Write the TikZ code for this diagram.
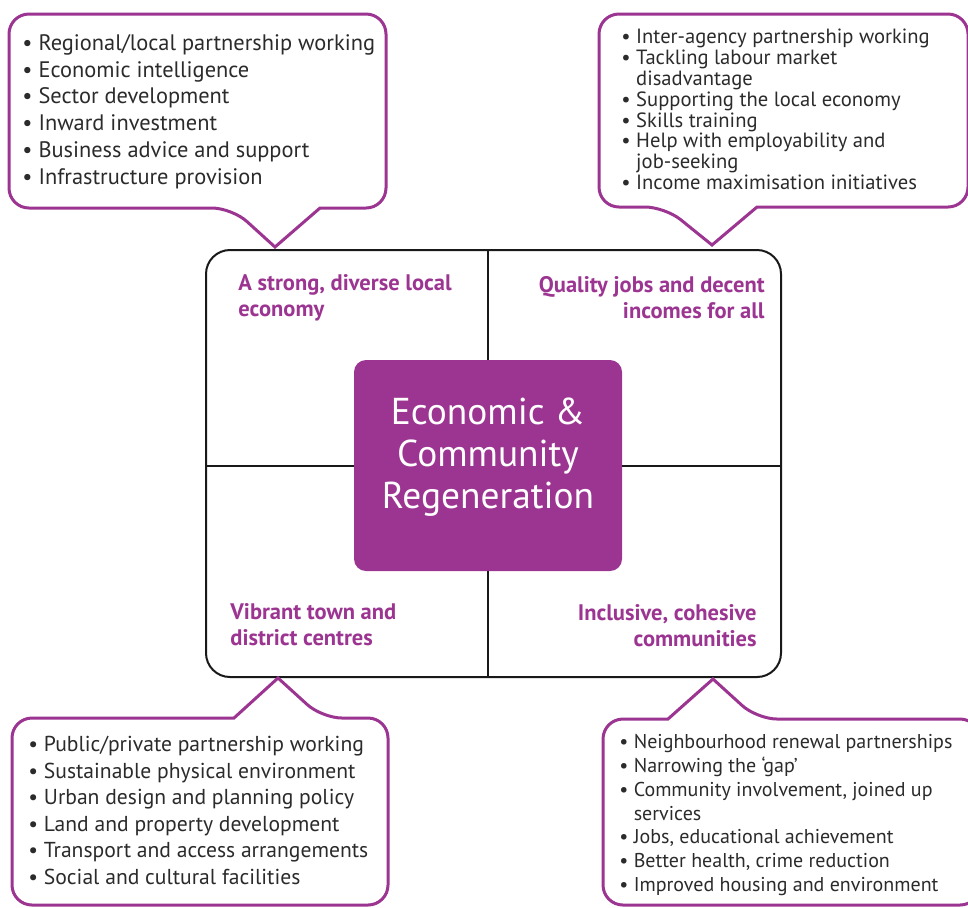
\documentclass[tikz,border=0pt]{standalone}
\usepackage{fontspec}
\setmainfont{PT Sans}
\usetikzlibrary{positioning}
\definecolor{regenpurple}{HTML}{9C3591}
\definecolor{itemgrey}{HTML}{2B2B2B}
\tikzstyle{callout} = [draw=regenpurple, line width=1.5pt, fill=white]
\tikzstyle{itemlist} = [anchor=north west, align=left, inner sep=0pt, text=itemgrey]
\tikzstyle{quadlabel} = [text=regenpurple, inner sep=0pt,
    font=\fontsize{11.25}{13}\selectfont\bfseries]
\tikzstyle{hubbox} = [fill=regenpurple, rounded corners=6pt,
    minimum width=134pt, minimum height=105.5pt]
\tikzstyle{hubtext} = [text=white, align=center, font=\fontsize{18.7}{21}\selectfont]
\newcommand{\blt}{\textbullet\ }
\newcommand{\cnt}{\phantom{\textbullet\ }}

\begin{document}
\begin{tikzpicture}[x=0.5pt, y=-0.5pt]
                \clip (0,0) rectangle (968,907);
                % outer frame and the hub
                \draw[line width=1pt, draw=black!90, rounded corners=12pt] (206,250) rectangle (781,677);
                \node[hubbox] (hub) at (488,465.5) {};
                \node[hubtext] (hublabel) at (488,457) {Economic \&\\Community\\Regeneration};
                \node[minimum width=287.5pt, minimum height=213.5pt, inner sep=0pt] (frame) at (493.5,463.5) {};
                \draw[line width=1pt, draw=black!90] (hub.north) -- (hub.north |- frame.north);
                \draw[line width=1pt, draw=black!90] (hub.south) -- (hub.south |- frame.south);
                \draw[line width=1pt, draw=black!90] (hub.west) -- (hub.west -| frame.west);
                \draw[line width=1pt, draw=black!90] (hub.east) -- (hub.east -| frame.east);
                % quadrant titles
                \node[quadlabel, anchor=north west, align=left] (economy) at (238,274) {A strong, diverse local\\economy};
                \node[quadlabel, anchor=north east, align=right] (jobs) at (765,276) {Quality jobs and decent\\incomes for all};
                \node[quadlabel, anchor=north west, align=left] (centres) at (230,603) {Vibrant town and\\district centres};
                \node[quadlabel, anchor=north east, align=right] (communities) at (757,604) {Inclusive, cohesive\\communities};
                % speech bubbles
                \draw[callout] (320,208) [rounded corners=10pt] -- (386,208) -- (386,14) -- (9,14) -- (9,208) -- (232,208) [sharp corners] -- (275,247) -- cycle;
                \draw[callout] (757,207) [rounded corners=10pt] -- (968,207) -- (968,14) -- (599,14) -- (599,207) -- (665,207) [sharp corners] -- (712,245) -- cycle;
                \draw[callout] (234,718) [rounded corners=10pt] -- (12,718) -- (12,905) -- (388,905) -- (388,718) -- (322,718) [sharp corners] -- (278,678) -- cycle;
                \draw[callout] (668,719) [rounded corners=10pt] -- (603,719) -- (603,905) -- (980,905) -- (980,719) -- (757,719) [sharp corners] -- (713,679) -- cycle;
                % bullet lists
                \node[itemlist, font=\fontsize{11.2}{13.4}\selectfont] (econlist) at (22,34) {%
                    \blt Regional/local partnership working\\
                    \blt Economic intelligence\\
                    \blt Sector development\\
                    \blt Inward investment\\
                    \blt Business advice and support\\
                    \blt Infrastructure provision};
                \node[itemlist, font=\fontsize{10.3}{10.4}\selectfont] (jobslist) at (621,29) {%
                    \blt Inter-agency partnership working\\
                    \blt Tackling labour market\\
                    \cnt disadvantage\\
                    \blt Supporting the local economy\\
                    \blt Skills training\\
                    \blt Help with employability and\\
                    \cnt job-seeking\\
                    \blt Income maximisation initiatives};
                \node[itemlist, font=\fontsize{10.8}{13.25}\selectfont] (centrelist) at (28,736) {%
                    \blt Public/private partnership working\\
                    \blt Sustainable physical environment\\
                    \blt Urban design and planning policy\\
                    \blt Land and property development\\
                    \blt Transport and access arrangements\\
                    \blt Social and cultural facilities};
                \node[itemlist, font=\fontsize{10}{11.9}\selectfont] (commlist) at (619,734) {%
                    \blt Neighbourhood renewal partnerships\\
                    \blt Narrowing the `gap'\\
                    \blt Community involvement, joined up\\
                    \cnt services\\
                    \blt Jobs, educational achievement\\
                    \blt Better health, crime reduction\\
                    \blt Improved housing and environment};
            \end{tikzpicture}
\end{document}
